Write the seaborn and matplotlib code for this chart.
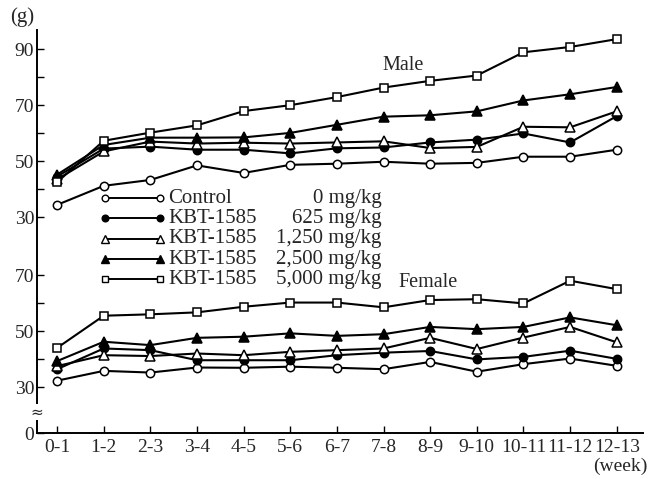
import numpy as np
import pandas as pd
import matplotlib
matplotlib.use("Agg")
import matplotlib.pyplot as plt
import seaborn as sns

# weeks of dosing
weeks = ["0-1", "1-2", "2-3", "3-4", "4-5", "5-6", "6-7", "7-8", "8-9",
         "9-10", "10-11", "11-12", "12-13"]

# body weight (g)
male_control = [34.4, 41.2, 43.3, 48.5, 45.8, 48.7, 49.1, 49.8, 49.1, 49.4, 51.6, 51.6, 54.1]
male_625 = [44.5, 54.5, 55.2, 54.1, 54.1, 52.8, 54.6, 54.9, 56.7, 57.7, 59.9, 56.7, 66.1]
male_1250 = [43.5, 53.5, 57.0, 56.3, 56.6, 56.3, 56.7, 57.1, 54.7, 55.1, 62.3, 62.1, 67.8]
male_2500 = [45.2, 55.8, 58.4, 58.4, 58.5, 60.1, 63.0, 65.9, 66.4, 67.8, 71.7, 73.9, 76.5]
male_5000 = [42.5, 57.3, 60.2, 62.8, 67.9, 70.0, 72.9, 76.3, 78.7, 80.6, 88.9, 90.8, 93.6]

female_control = [32.3, 35.8, 35.2, 37.0, 36.9, 37.3, 36.9, 36.4, 39.0, 35.5, 38.2, 40.2, 37.6]
female_625 = [36.4, 43.8, 43.2, 39.6, 39.6, 39.6, 41.4, 42.3, 42.9, 39.9, 40.8, 43.0, 40.1]
female_1250 = [37.5, 41.4, 41.1, 42.0, 41.4, 42.6, 43.2, 43.8, 47.6, 43.6, 47.7, 51.5, 46.0]
female_2500 = [39.3, 46.2, 45.0, 47.6, 48.0, 49.2, 48.3, 48.9, 51.5, 50.7, 51.5, 54.9, 52.1]
female_5000 = [44.0, 55.5, 56.0, 56.7, 58.7, 60.2, 60.2, 58.5, 61.1, 61.4, 59.9, 68.0, 65.0]

groups = ["Control", "KBT-1585", "KBT-1585", "KBT-1585", "KBT-1585"]
doses = ["0 mg/kg", "625 mg/kg", "1,250 mg/kg", "2,500 mg/kg", "5,000 mg/kg"]

male_ticks = [30, 50, 70, 90]
female_ticks = [30, 50, 70]

# both sexes share one axis: shift each block to its place on it
MALE_SHIFT = 47.1
FEMALE_SHIFT = -13.6

styles = [
    dict(marker="o", markerfacecolor="white", markersize=6),
    dict(marker="o", markerfacecolor="black", markersize=6),
    dict(marker="^", markerfacecolor="white", markersize=6.5),
    dict(marker="^", markerfacecolor="black", markersize=6.5),
    dict(marker="s", markerfacecolor="white", markersize=5.5),
]

sns.set_style("ticks")
plt.rcParams["font.family"] = ["Liberation Serif", "DejaVu Serif"]

fig = plt.figure(figsize=(6.5, 4.79), dpi=100)
ax = fig.add_axes([0.057, 0.096, 0.932, 0.841])

x = np.arange(len(weeks))
male = [male_control, male_625, male_1250, male_2500, male_5000]
female = [female_control, female_625, female_1250, female_2500, female_5000]

for vals, st in zip(male, styles):
    sns.lineplot(x=x, y=np.array(vals) + MALE_SHIFT, ax=ax, color="black",
                 linewidth=1.5, markeredgecolor="black", markeredgewidth=1.1,
                 **st)
for vals, st in zip(female, styles):
    sns.lineplot(x=x, y=np.array(vals) + FEMALE_SHIFT, ax=ax, color="black",
                 linewidth=1.5, markeredgecolor="black", markeredgewidth=1.1,
                 **st)

ax.set_xlim(-0.43, 12.56)
ax.set_ylim(0, 143.9)
ax.set_xticks(x)
ax.set_xticklabels(weeks, fontsize=14)

yt = [0] + [v + FEMALE_SHIFT for v in female_ticks] + [v + MALE_SHIFT for v in male_ticks]
ytl = ["0"] + [str(v) for v in female_ticks] + [str(v) for v in male_ticks]
ax.set_yticks(yt)
ax.set_yticklabels(ytl, fontsize=14)
ax.set_yticks([v + FEMALE_SHIFT for v in (40, 60)] + [v + MALE_SHIFT for v in (40, 60, 80)],
              minor=True)
ax.tick_params(axis="both", which="both", direction="in", length=5, width=1.0,
               color="black", pad=2)
ax.tick_params(axis="x", pad=4)
sns.despine(ax=ax)
for s in ("left", "bottom"):
    ax.spines[s].set_linewidth(1.4)
    ax.spines[s].set_color("black")

# axis break between 0 and 30
ax.text(-0.43, 7.5, "\u2248", ha="center", va="center", fontsize=11,
        family="DejaVu Sans",
        bbox=dict(facecolor="white", edgecolor="none", pad=0.3))

ax.text(7.43, 131.4, "Male", ha="center", va="center", fontsize=14.5)
ax.text(7.95, 53.6, "Female", ha="center", va="center", fontsize=14.5)

# legend drawn by hand: sample line, group name, dose
for i, (g, d, st) in enumerate(zip(groups, doses, styles)):
    yy = 0.583 - i * 0.0504
    leg_st = dict(st, markersize=st["markersize"] * 0.8)
    ax.plot([0.112, 0.203], [yy, yy], transform=ax.transAxes, color="black",
            linewidth=1.4, markeredgecolor="black", markeredgewidth=1.0,
            clip_on=False, **leg_st)
    ax.text(0.216, yy, g, transform=ax.transAxes, ha="left", va="center",
            fontsize=15)
    ax.text(0.569, yy, d, transform=ax.transAxes, ha="right", va="center",
            fontsize=15)

fig.text(0.034, 0.965, "(g)", ha="center", va="center", fontsize=15)
fig.text(0.955, 0.008, "(week)", ha="center", va="bottom", fontsize=14)

fig.savefig("out.png", dpi=100, facecolor="white")
